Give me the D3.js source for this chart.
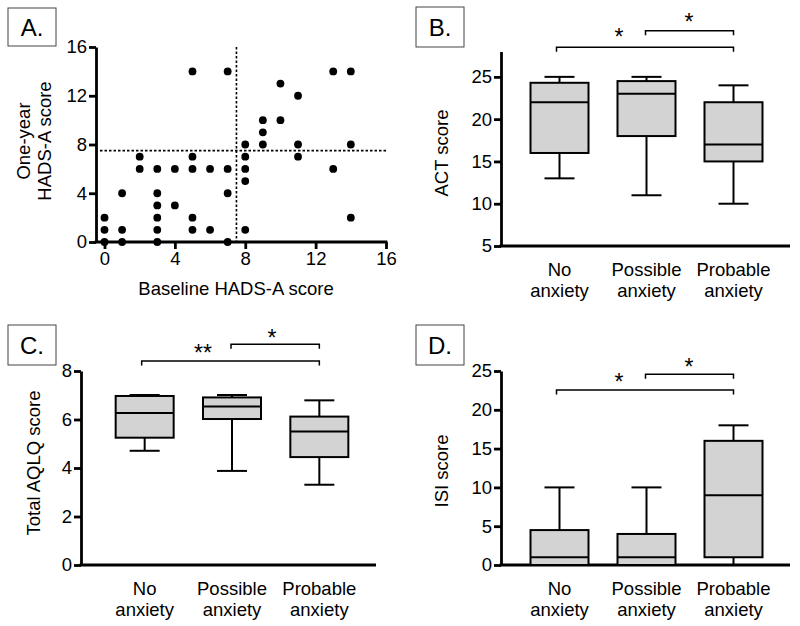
<!DOCTYPE html>
<html><head><meta charset="utf-8">
<script src="https://cdn.jsdelivr.net/npm/d3@7"></script>
<style>
body{margin:0;background:#fff;}
svg{display:block;font-family:"Liberation Sans",Arial,sans-serif;}
</style></head>
<body><svg id="c" width="800" height="626"></svg>
<script>
// ---- Data ----
const scatterX = [0,0,0, 1,1,1, 2,2, 3,3,3,3,3,3, 4,4, 5,5,5,5,5, 6,6, 7,7,7,7, 8,8,8,8,8, 9,9,9, 10,10, 11,11,11, 13,13, 14,14,14];
const scatterY = [0,1,2, 0,1,4, 6,7, 0,1,2,3,4,6, 3,6, 1,2,6,7,14, 1,6, 0,4,6,14, 1,5,6,7,8, 8,9,10, 10,13, 7,8,12, 6,14, 2,8,14];
const scatterTicks = [0,4,8,12,16];
const cutoff = 7.5;

const groups = ["No anxiety","Possible anxiety","Probable anxiety"];
const groupLines = [["No","anxiety"],["Possible","anxiety"],["Probable","anxiety"]];

// [min, Q1, median, Q3, max]
const actStats  = [[13,16,22,24.3,25],[11,18,23,24.5,25],[10,15,17,22,24]];
const aqlqStats = [[4.71,5.25,6.27,6.97,7.01],[3.88,6.02,6.54,6.91,7.01],[3.31,4.45,5.51,6.12,6.79]];
const isiStats  = [[0,0,1,4.5,10],[0,0,1,4,10],[0,1,9,16,18]];

const actTicks = [5,10,15,20,25];
const aqlqTicks = [0,2,4,6,8];
const isiTicks = [0,5,10,15,20,25];

// significance: [from group, to group, label]
const actSig  = [[0,2,"*"],[1,2,"*"]];
const aqlqSig = [[0,2,"**"],[1,2,"*"]];
const isiSig  = [[0,2,"*"],[1,2,"*"]];

// ---- Drawing ----
const svg = d3.select("#c");
const AX = 2.8, FS = 18.5;

function panelLabel(x, y, w, h, t){
  svg.append("rect").attr("x",x).attr("y",y).attr("width",w).attr("height",h)
    .attr("fill","#fff").attr("stroke","#444").attr("stroke-width",1);
  svg.append("text").attr("x",x+w/2).attr("y",y+h/2+8.5).attr("text-anchor","middle")
    .attr("font-size",24).text(t);
}

function styleAxis(g){
  g.select(".domain").attr("stroke","#000").attr("stroke-width",AX);
  g.selectAll(".tick line").attr("stroke","#000").attr("stroke-width",AX);
  g.selectAll(".tick text").attr("font-size",18.5).attr("fill","#000")
    .attr("font-family","Liberation Sans, Arial, sans-serif");
}

// Panel A
(function(){
  const x = d3.scaleLinear().domain([0,16]).range([104.5,386]);
  const y = d3.scaleLinear().domain([0,16]).range([242,47]);
  const axX0 = 96;
  panelLabel(8,8,48,38,"A.");
  svg.append("line").attr("x1",axX0+4).attr("x2",x(16)).attr("y1",y(cutoff)).attr("y2",y(cutoff))
    .attr("stroke","#000").attr("stroke-width",1.6).attr("stroke-dasharray","2.5,2");
  svg.append("line").attr("x1",x(cutoff)).attr("x2",x(cutoff)).attr("y1",y(16)).attr("y2",y(0))
    .attr("stroke","#000").attr("stroke-width",1.6).attr("stroke-dasharray","2.5,2");
  const gy = svg.append("g").attr("transform",`translate(${axX0},0)`)
    .call(d3.axisLeft(y).tickValues(scatterTicks).tickSize(7).tickSizeOuter(0).tickPadding(2));
  styleAxis(gy);
  const gx = svg.append("g").attr("transform",`translate(0,${y(0)})`)
    .call(d3.axisBottom(x).tickValues(scatterTicks).tickSize(7).tickSizeOuter(0).tickPadding(3));
  styleAxis(gx);
  gx.select(".domain").remove();
  svg.append("line").attr("x1",axX0-1.4).attr("x2",x(16)+1.4).attr("y1",y(0)).attr("y2",y(0))
    .attr("stroke","#000").attr("stroke-width",AX);
  svg.append("g").selectAll("circle").data(scatterX.map((d,i)=>[d,scatterY[i]])).enter()
    .append("circle").attr("cx",d=>x(d[0])).attr("cy",d=>y(d[1])).attr("r",3.9).attr("fill","#000");
  svg.append("text").attr("x",236).attr("y",295).attr("text-anchor","middle").attr("font-size",FS)
    .text("Baseline HADS-A score");
  const t = svg.append("text").attr("transform",`translate(30,141) rotate(-90)`).attr("text-anchor","middle").attr("font-size",FS);
  t.append("tspan").attr("x",0).attr("dy",0).text("One-year");
  t.append("tspan").attr("x",0).attr("dy",20.5).text("HADS-A score");
})();

function boxPanel(o){
  const y = d3.scaleLinear().domain(o.domain).range([o.y0,o.y1]);
  const x = d3.scaleBand().domain(groups).range(o.band).paddingInner(0).paddingOuter(0);
  const bw = 58, cw = 30;
  panelLabel(o.lab[0],o.lab[1],48,40,o.label);
  const gy = svg.append("g").attr("transform",`translate(${o.ax},0)`)
    .call(d3.axisLeft(y).tickValues(o.ticks).tickSize(7).tickSizeOuter(0).tickPadding(2));
  styleAxis(gy);
  svg.append("line").attr("x1",o.ax-1.4).attr("x2",o.axEnd).attr("y1",o.y0).attr("y2",o.y0)
    .attr("stroke","#000").attr("stroke-width",AX);
  const g = svg.append("g");
  o.stats.forEach((s,i)=>{
    const cx = x(groups[i]) + x.bandwidth()/2;
    g.append("line").attr("x1",cx).attr("x2",cx).attr("y1",y(s[3])).attr("y2",y(s[4])).attr("stroke","#000").attr("stroke-width",2);
    g.append("line").attr("x1",cx).attr("x2",cx).attr("y1",y(s[0])).attr("y2",y(s[1])).attr("stroke","#000").attr("stroke-width",2);
    if (s[4] > s[3]) g.append("line").attr("x1",cx-cw/2).attr("x2",cx+cw/2).attr("y1",y(s[4])).attr("y2",y(s[4])).attr("stroke","#000").attr("stroke-width",2);
    if (s[0] < s[1] && s[0] > o.domain[0]) g.append("line").attr("x1",cx-cw/2).attr("x2",cx+cw/2).attr("y1",y(s[0])).attr("y2",y(s[0])).attr("stroke","#000").attr("stroke-width",2);
    g.append("rect").attr("x",cx-bw/2).attr("y",y(s[3])).attr("width",bw).attr("height",y(s[1])-y(s[3]))
      .attr("fill","#d3d3d3").attr("stroke","#000").attr("stroke-width",2);
    g.append("line").attr("x1",cx-bw/2).attr("x2",cx+bw/2).attr("y1",y(s[2])).attr("y2",y(s[2])).attr("stroke","#000").attr("stroke-width",2);
    const tt = svg.append("text").attr("x",cx).attr("y",o.y0+30).attr("text-anchor","middle").attr("font-size",FS);
    tt.append("tspan").attr("x",cx).text(groupLines[i][0]);
    tt.append("tspan").attr("x",cx).attr("dy",20.5).text(groupLines[i][1]);
  });
  o.sig.forEach((sg,k)=>{
    const xa = x(groups[sg[0]]) + x.bandwidth()/2 - (sg[0]===0?3:1);
    const xb = x(groups[sg[1]]) + x.bandwidth()/2;
    const yy = o.sigY[k];
    g.append("path").attr("d",`M${xa},${yy+4.5}V${yy}H${xb}V${yy+4.5}`).attr("fill","none").attr("stroke","#000").attr("stroke-width",1.5);
    svg.append("text").attr("x",o.starX[k]).attr("y",o.starY[k]).attr("text-anchor","middle").attr("font-size",23).text(sg[2]);
  });
  svg.append("text").attr("transform",`translate(${o.titleX},${o.titleY}) rotate(-90)`).attr("text-anchor","middle")
    .attr("font-size",FS).text(o.title);
}

boxPanel({label:"B.", lab:[416,7], domain:[5,28], y0:246, y1:51.5, ticks:actTicks, ax:501, axEnd:790,
  band:[516,777], stats:actStats, sig:actSig, sigY:[47.3,30.7], starX:[619,689], starY:[45,30],
  title:"ACT score", titleX:448, titleY:153});
boxPanel({label:"C.", lab:[8,325], domain:[0,8], y0:565, y1:371, ticks:aqlqTicks, ax:81, axEnd:376,
  band:[101,363], stats:aqlqStats, sig:aqlqSig, sigY:[361,344.3], starX:[203,272], starY:[361,346],
  title:"Total AQLQ score", titleX:40, titleY:463});
boxPanel({label:"D.", lab:[416,325], domain:[0,25], y0:565, y1:371, ticks:isiTicks, ax:501, axEnd:790,
  band:[516,777], stats:isiSig ? isiStats : isiStats, sig:isiSig, sigY:[390,374.3], starX:[619,689], starY:[390,375],
  title:"ISI score", titleX:448, titleY:471});
</script>
</body></html>
